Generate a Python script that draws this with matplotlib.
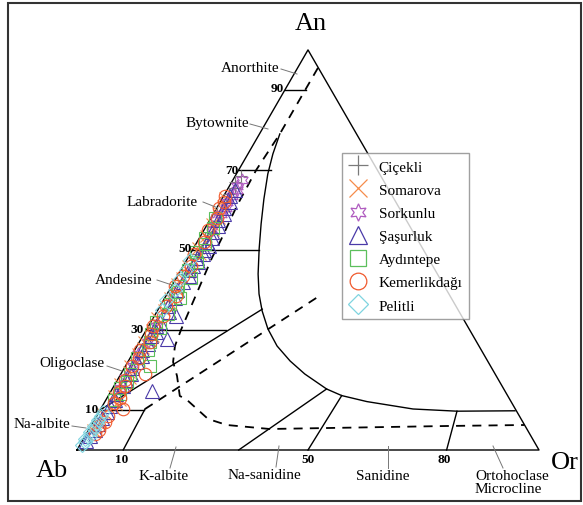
import numpy as np
import matplotlib
matplotlib.use("Agg")
import matplotlib.pyplot as plt
from matplotlib.lines import Line2D
from matplotlib.patches import Rectangle

plt.rcParams['font.family'] = ['Liberation Serif', 'DejaVu Serif']

# ---------------- data (An %, Or %) ----------------
cicekli_an = [68.5, 67, 65.5, 64, 62, 59, 56, 53, 49, 44, 38]
cicekli_or = [1.2, 0.8, 1.5, 1.0, 1.3, 0.9, 1.4, 1.1, 1.2, 0.8, 1.0]

somarova_an = [63, 61, 59.5, 58, 56.5, 55, 53.5, 52, 50.5, 49, 47.5, 46, 44.5, 43, 41.5, 40,
               38, 36.5, 35, 33, 31.5, 30, 28.5, 27, 25.5, 24, 22.5, 21, 19.5, 18, 16.5, 15,
               13.5, 12.5, 11.5, 9, 7, 5]
somarova_or = [0.6, 1.2, 0.8, 1.8, 1.0, 2.0, 1.2, 1.6, 0.9, 2.2, 1.4, 1.0, 1.9, 1.3, 0.8, 1.7,
               1.1, 2.0, 1.4, 0.9, 1.8, 1.2, 2.1, 1.0, 1.6, 1.3, 2.2, 1.0, 1.5, 2.4, 1.1, 1.8,
               1.3, 3.0, 2.6, 1.2, 1.6, 1.0]

sorkunlu_an = [67.5, 66, 65, 63.5, 62, 60.5, 59, 57.5, 55, 31, 27, 24, 21, 18, 15.5]
sorkunlu_or = [2.0, 1.6, 2.2, 1.8, 1.4, 2.0, 1.6, 1.2, 1.8, 1.5, 1.9, 1.3, 1.7, 1.4, 1.6]

sasurluk_an = [65, 63.5, 62, 60.5, 59, 57.5, 56, 54.5, 53, 52, 51, 50, 49, 48, 47, 46, 45,
               43.5, 42, 40, 38, 36, 34.5, 33.5, 32, 31, 29.5, 28.5, 27.7, 26.5, 25, 23.5,
               22, 20.5, 19, 17.5, 16, 14.8, 14, 12.5, 11, 9.5, 8, 6.5, 5, 3.5, 2.2]
sasurluk_or = [1.8, 1.4, 2.2, 1.6, 2.4, 1.8, 2.6, 2.0, 2.8, 2.2, 3.0, 2.4, 2.8, 2.0, 2.6, 2.2, 1.8,
               2.4, 2.0, 1.6, 2.2, 1.8, 2.6, 4.6, 2.0, 1.6, 2.4, 1.8, 5.6, 2.2, 1.6, 2.4,
               2.0, 1.6, 2.2, 1.8, 2.0, 8.8, 1.4, 2.0, 1.6, 1.8, 1.4, 1.2, 1.4, 1.0, 0.8]

aydintepe_an = [58, 55.5, 53, 51.5, 49.5, 47, 45, 43, 41, 39.5, 38, 36.5, 34, 32, 30.5, 29,
                27, 25, 23, 21, 19, 17, 15.5, 14, 12.5]
aydintepe_or = [0.8, 1.6, 1.2, 2.0, 1.0, 2.4, 1.6, 3.2, 1.4, 2.0, 3.4, 1.8, 2.6, 1.2, 2.8, 1.6,
                2.2, 2.8, 1.4, 5.4, 2.0, 2.4, 1.6, 2.2, 1.8]

kemer_an = [63.5, 62, 60.5, 58, 55, 52, 49, 46, 43.5, 41, 38.5, 36, 33.5, 31, 29, 27, 25,
            23, 21, 19, 17.5, 16, 14.5, 13, 11.8, 10.3, 8.5, 7, 6, 5, 4]
kemer_or = [0.3, 0.8, 0.5, 1.2, 0.8, 1.4, 0.9, 1.6, 1.1, 0.7, 2.2, 1.2, 1.8, 1.0, 1.6, 2.2, 1.2,
            2.0, 1.4, 5.2, 1.6, 2.4, 1.8, 2.8, 2.2, 4.8, 2.4, 2.6, 1.8, 2.2, 1.8]

pelitli_an = [1.2, 2.0, 2.8, 3.6, 4.4, 5.2, 6.0, 6.8, 7.6, 8.5, 9.5, 35, 37.5, 40, 42.5, 45, 47.5]
pelitli_or = [0.5, 0.8, 0.4, 1.0, 0.7, 1.1, 0.6, 0.9, 0.7, 1.0, 0.8, 1.0, 0.6, 1.2, 0.8, 1.0, 0.7]

series = [
    ("Çiçekli", cicekli_an, cicekli_or, '+', '#7a7a7a'),
    ("Somarova", somarova_an, somarova_or, 'x', '#f58c4a'),
    ("Sorkunlu", sorkunlu_an, sorkunlu_or, (6, 1, 0), '#b05cc0'),
    ("Şaşurluk", sasurluk_an, sasurluk_or, '^', '#4a3aa8'),
    ("Aydıntepe", aydintepe_an, aydintepe_or, 's', '#5cbf5c'),
    ("Kemerlikdağı", kemer_an, kemer_or, 'o', '#f05a2e'),
    ("Pelitli", pelitli_an, pelitli_or, 'D', '#7fd4e0'),
]

# field boundaries (An %, Or %)
solvus_an = [79, 74, 69, 62.7, 56.5, 50.25, 44, 39, 34.75, 30.25, 26, 22.25, 19,
             15.25, 13.6, 12.1, 10.25, 9.7, 9.8]
solvus_or = [4.4, 5.4, 6.8, 9.1, 11.6, 14.3, 17.2, 19.9, 22.7, 26.2, 30.3, 35.0, 39.8,
             46.4, 50.5, 56.7, 67.6, 77.4, 89.9]

dash1_an = [95.5, 79, 70, 61, 52.5, 48, 30, 26, 22, 18.5, 13.5, 12.75, 7.75, 6.25, 5.25, 6.0, 6.25]
dash1_or = [4.4, 4.4, 3.8, 4.1, 4.9, 5.2, 7.5, 8.2, 9.8, 12.4, 15.5, 17.2, 24.5, 29.3, 39.1, 77.1, 93.7]

dash2_an = [10.25, 38.25]
dash2_or = [9.6, 33.0]

tie_an = [90, 70, 50, 30, 10]
tie_or_end = [4.5, 7.0, 14.3, 17.3, 9.6]

base_ticks = [10, 35, 50, 80]
base_end_an = [10.25, 15.25, 13.6, 9.7]
base_end_or = [9.6, 46.4, 50.5, 77.4]

left_labels = ["90", "70", "50", "30", "10"]
bottom_labels = ["10", "50", "80"]

S3 = np.sqrt(3) / 2


def tern(an, orr):
    an = np.asarray(an, dtype=float) / 100.0
    orr = np.asarray(orr, dtype=float) / 100.0
    return orr + an / 2.0, an * S3


W, H = 583, 506
fig = plt.figure(figsize=(W / 100, H / 100), dpi=100)
ax = fig.add_axes([0, 0, 1, 1])
ax.set_xlim(-77 / 462, (W - 77) / 462)
ax.set_ylim(-(H - 451) / 462, 451 / 462)
ax.axis('off')

lw = 1.0
# triangle
tx, ty = tern([0, 0, 100, 0], [0, 100, 0, 0])
ax.plot(tx, ty, color='black', lw=lw, zorder=2)

# solvus (solid)
x, y = tern(solvus_an, solvus_or)
ax.plot(x, y, color='black', lw=lw, zorder=2)
# dashed lines
x, y = tern(dash1_an, dash1_or)
ax.plot(x, y, color='black', lw=1.3, ls=(0, (5, 4)), zorder=2)
x, y = tern(dash2_an, dash2_or)
ax.plot(x, y, color='black', lw=1.3, ls=(0, (5, 4)), zorder=2)

# tie lines from An axis
for a, o in zip(tie_an, tie_or_end):
    x, y = tern([a, a], [0, o])
    ax.plot(x, y, color='black', lw=lw, zorder=2)
# 10 -> curve oblique line
x, y = tern([10, 35.2], [0, 22.5])
ax.plot(x, y, color='black', lw=lw, zorder=2)
# base tie lines
for b, ea, eo in zip(base_ticks, base_end_an, base_end_or):
    x, y = tern([0, ea], [b, eo])
    ax.plot(x, y, color='black', lw=lw, zorder=2)

# data
handles = []
for name, an, orr, mk, col in series:
    x, y = tern(an, orr)
    if mk in ('+', 'x'):
        ax.plot(x, y, ls='none', marker=mk, ms=9, mew=0.8, color=col, zorder=3)
    else:
        ms = {'D': 7.5, 's': 8.5, 'o': 9, '^': 9.5}.get(mk, 9.5)
        ax.plot(x, y, ls='none', marker=mk, ms=ms, mew=0.8,
                mfc='none', mec=col, zorder=3)
    hms = {'+': 14, 'x': 13, 'D': 10, 's': 11.5, 'o': 12, '^': 12.5}.get(mk, 12.5)
    handles.append(Line2D([], [], ls='none', marker=mk, ms=hms,
                          mew=0.9, mfc='none', mec=col, color=col))

leg = fig.legend(handles, [s[0] for s in series], loc='upper left',
                 bbox_to_anchor=(342 / W, 1 - 154 / H), frameon=True, fancybox=False,
                 fontsize=11, handlelength=1.2, handletextpad=0.75,
                 labelspacing=0.62, borderpad=0.45, borderaxespad=0)
leg.get_frame().set_edgecolor('#888888')
leg.get_frame().set_linewidth(1.0)


def ftext(px, py, s, **kw):
    fig.text(px / W, 1 - py / H, s, **kw)


def fline(p0, p1, **kw):
    fig.add_artist(Line2D([p0[0] / W, p1[0] / W], [1 - p0[1] / H, 1 - p1[1] / H],
                          transform=fig.transFigure, **kw))


# vertex labels
ftext(311, 24, "An", fontsize=19, ha='center', va='center')
ftext(52, 471, "Ab", fontsize=19, ha='center', va='center')
ftext(565, 463, "Or", fontsize=19, ha='center', va='center')

# An axis tick labels
for lab, (px, py) in zip(left_labels, [(284, 89), (238, 171), (192, 249), (144, 330), (98, 410)]):
    ftext(px, py, lab, fontsize=9.5, fontweight='bold', ha='right', va='center')
for lab, px in zip(bottom_labels, [122, 308, 444]):
    ftext(px, 460, lab, fontsize=9.5, fontweight='bold', ha='center', va='center')

# field names with leader lines
fs = 11
gray = '#777777'
ftext(250, 68, "Anorthite", fontsize=fs, ha='center', va='center')
fline((281, 70), (297, 75), color=gray, lw=0.7)
ftext(217, 123, "Bytownite", fontsize=fs, ha='center', va='center')
fline((250, 125), (268, 130), color=gray, lw=0.7)
ftext(162, 202, "Labradorite", fontsize=fs, ha='center', va='center')
fline((203, 203), (218, 209), color=gray, lw=0.7)
ftext(124, 280, "Andesine", fontsize=fs, ha='center', va='center')
fline((157, 281), (172, 286), color=gray, lw=0.7)
ftext(72, 364, "Oligoclase", fontsize=fs, ha='center', va='center')
fline((107, 367), (122, 372), color=gray, lw=0.7)
ftext(42, 424, "Na-albite", fontsize=fs, ha='center', va='center')
fline((72, 427), (86, 429), color=gray, lw=0.7)

ftext(164, 477, "K-albite", fontsize=fs, ha='center', va='center')
fline((176, 448), (170, 469), color=gray, lw=0.7)
ftext(264, 476, "Na-sanidine", fontsize=fs, ha='center', va='center')
fline((279, 447), (276, 468), color=gray, lw=0.7)
ftext(383, 477, "Sanidine", fontsize=fs, ha='center', va='center')
fline((388, 447), (388, 469), color=gray, lw=0.7)
ftext(512, 477, "Ortohoclase", fontsize=fs, ha='center', va='center')
ftext(508, 490, "Microcline", fontsize=fs, ha='center', va='center')
fline((493, 447), (503, 469), color=gray, lw=0.7)

# outer frame
fig.add_artist(Rectangle((8 / W, 1 - 502 / H), (581 - 8) / W, (502 - 4) / H,
                         transform=fig.transFigure, fill=False, edgecolor='#333333', lw=1.5))

fig.savefig('out.png', dpi=100)
